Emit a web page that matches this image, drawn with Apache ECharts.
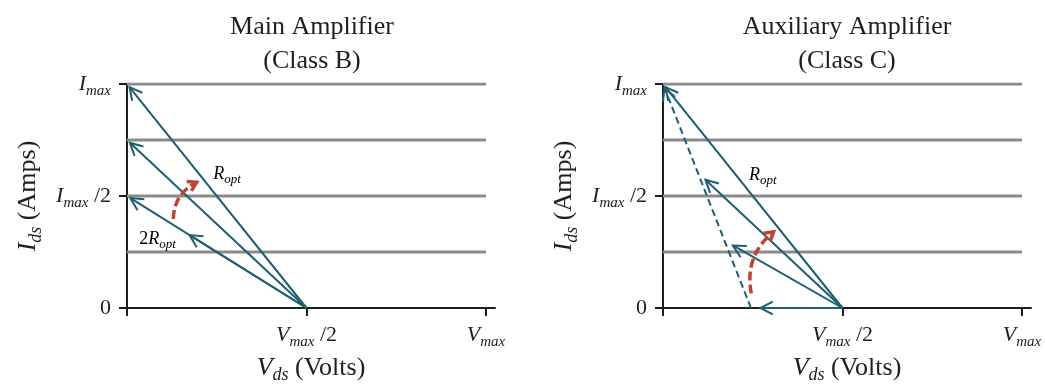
<!DOCTYPE html>
<html>
<head>
<meta charset="utf-8">
<script src="https://cdn.jsdelivr.net/npm/echarts@6/dist/echarts.min.js"></script>
<style>
  html, body { margin: 0; padding: 0; background: #fff; }
  #chart { width: 1045px; height: 385px; }
</style>
</head>
<body>
<div id="chart"></div>
<script>
// ---- data ----
const panelTitles = ['Main Amplifier\n(Class B)', 'Auxiliary Amplifier\n(Class C)'];
const levelLines = [0.25, 0.5, 0.75, 1];
const xTickValues = [0, 0.5, 1];
const xTickLabels = ['', '{i|V}{s|max}{n| /2}', '{i|V}{s|max}'];
const yTickValues = [0, 0.5, 1];
const yTickLabels = ['{n|0}', '{i|I}{s|max}{n| /2}', '{i|I}{s|max}'];
const xName = '{i|V}{s|ds}{n| (Volts)}';
const yName = '{i|I}{s|ds}{n| (Amps)}';

// load-line arrows: [fromV, fromI, toV, toI]
const mainArrows = [[0.5, 0, 0, 1], [0.5, 0, 0, 0.75], [0.5, 0, 0, 0.5], [0.5, 0, 0.165, 0.335]];
const auxArrows = [[0.5, 0, 0, 1], [0.5, 0, 0.11, 0.585], [0.5, 0, 0.185, 0.288], [0.5, 0, 0.26, 0]];
const auxDashed = [[0.245, 0, 0, 1]];

// curved load-modulation sweeps: [fromV, fromI, toV, toI]
const mainSweep = [[0.129, 0.397, 0.194, 0.561]];
const auxSweep = [[0.246, 0.065, 0.308, 0.34]];

// resistance annotations: [V, I, text]
const mainLabels = [[0.279, 0.598, '{i|R}{s|opt}'], [0.085, 0.308, '{n|2}{i|R}{s|opt}']];
const auxLabels = [[0.278, 0.594, '{i|R}{s|opt}']];

// ---- styling ----
const SERIF = '"Liberation Serif", "DejaVu Serif", serif';
const INK = '#1e1e1e';
const TEAL = '#1c5f73';
const RED = '#c0432f';
const GRID_GRAY = '#8a8a8a';

function rich(size) {
  const sub = Math.round(size * 0.7);
  return {
    i: { fontFamily: SERIF, fontStyle: 'italic', fontSize: size, lineHeight: size + 7, color: INK },
    s: { fontFamily: SERIF, fontStyle: 'italic', fontSize: sub, lineHeight: sub, verticalAlign: 'bottom', color: INK },
    n: { fontFamily: SERIF, fontSize: size, lineHeight: size + 7, color: INK }
  };
}

function headPoints(tip, ux, uy, len, half) {
  const c = Math.cos(half), s = Math.sin(half);
  const bx = -ux, by = -uy;
  const l = [tip[0] + len * (bx * c - by * s), tip[1] + len * (bx * s + by * c)];
  const r = [tip[0] + len * (bx * c + by * s), tip[1] + len * (-bx * s + by * c)];
  return [l, tip, r];
}

function arrowRenderer(dashed) {
  return function (params, api) {
    const a = api.coord([api.value(0), api.value(1)]);
    const e = api.coord([api.value(2), api.value(3)]);
    const dx = e[0] - a[0], dy = e[1] - a[1];
    const len = Math.hypot(dx, dy);
    const ux = dx / len, uy = dy / len;
    const tipGap = 4;
    const b = [e[0] - ux * tipGap, e[1] - uy * tipGap];
    return {
      type: 'group',
      children: [
        { type: 'line', shape: { x1: a[0], y1: a[1], x2: b[0], y2: b[1] },
          style: { stroke: TEAL, lineWidth: 2, lineDash: dashed ? [7, 4] : null } },
        { type: 'polyline', shape: { points: headPoints(b, ux, uy, 14, 0.48) },
          style: { stroke: TEAL, lineWidth: 2, fill: null } }
      ]
    };
  };
}

function sweepRenderer(params, api) {
  const a = api.coord([api.value(0), api.value(1)]);
  const b = api.coord([api.value(2), api.value(3)]);
  const dx = b[0] - a[0], dy = b[1] - a[1];
  const bend = 0.3;
  const cp = [(a[0] + b[0]) / 2 + bend * dy, (a[1] + b[1]) / 2 - bend * dx];
  const tx = b[0] - cp[0], ty = b[1] - cp[1];
  const tl = Math.hypot(tx, ty);
  return {
    type: 'group',
    children: [
      { type: 'bezierCurve', shape: { x1: a[0], y1: a[1], x2: b[0], y2: b[1], cpx1: cp[0], cpy1: cp[1] },
        style: { stroke: RED, lineWidth: 3.5, lineDash: [9, 4], fill: null } },
      { type: 'polyline', shape: { points: headPoints(b, tx / tl, ty / tl, 10, 0.55) },
        style: { stroke: RED, lineWidth: 3.5, fill: null } }
    ]
  };
}

function labelRenderer(params, api) {
  const p = api.coord([api.value(0), api.value(1)]);
  return {
    type: 'text', x: p[0], y: p[1],
    style: { text: api.value(2), rich: rich(18), align: 'center', verticalAlign: 'middle' }
  };
}

function axisPair(gi) {
  const common = {
    gridIndex: gi,
    type: 'value',
    splitLine: { show: false },
    axisLine: { show: true, onZero: false, lineStyle: { color: INK, width: 2 } },
    axisTick: { show: true, length: 8, lineStyle: { color: INK, width: 2 } }
  };
  const x = Object.assign({}, common, {
    min: 0, max: 1.025,
    axisTick: Object.assign({}, common.axisTick, { customValues: xTickValues }),
    axisLabel: { customValues: xTickValues, margin: 13, rich: rich(22),
      formatter: v => xTickLabels[xTickValues.indexOf(v)] || '' },
    name: xName, nameLocation: 'middle', nameGap: 42, nameTextStyle: { rich: rich(26) }
  });
  const y = Object.assign({}, common, {
    min: 0, max: 1,
    axisTick: Object.assign({}, common.axisTick, { customValues: yTickValues }),
    axisLabel: { customValues: yTickValues, margin: 16, rich: rich(22),
      formatter: v => yTickLabels[yTickValues.indexOf(v)] || '' },
    name: yName, nameLocation: 'middle', nameGap: 82, nameRotate: 90, nameTextStyle: { rich: rich(26) }
  });
  return [x, y];
}

function panelSeries(gi, arrows, dashed, sweep, labels) {
  const out = [];
  levelLines.forEach(g => {
    out.push({
      type: 'line', xAxisIndex: gi, yAxisIndex: gi, data: [[0, g], [1, g]],
      symbol: 'none', silent: true, z: 1,
      lineStyle: { color: GRID_GRAY, width: 3 }
    });
  });
  out.push({ type: 'custom', xAxisIndex: gi, yAxisIndex: gi, data: arrows, renderItem: arrowRenderer(false), z: 3, silent: true });
  if (dashed.length) {
    out.push({ type: 'custom', xAxisIndex: gi, yAxisIndex: gi, data: dashed, renderItem: arrowRenderer(true), z: 3, silent: true });
  }
  out.push({ type: 'custom', xAxisIndex: gi, yAxisIndex: gi, data: sweep, renderItem: sweepRenderer, z: 4, silent: true });
  out.push({
    type: 'custom', xAxisIndex: gi, yAxisIndex: gi, data: labels, renderItem: labelRenderer, z: 5, silent: true,
    dimensions: ['v', 'i', { name: 'text', type: 'ordinal' }]
  });
  return out;
}

const [x0, y0] = axisPair(0);
const [x1, y1] = axisPair(1);

const chart = echarts.init(document.getElementById('chart'), null, { renderer: 'canvas' });
chart.setOption({
  animation: false,
  backgroundColor: '#ffffff',
  grid: [
    { left: 127, right: 550, top: 84, bottom: 77, containLabel: false, outerBoundsMode: 'none' },
    { left: 663, right: 14, top: 84, bottom: 77, containLabel: false, outerBoundsMode: 'none' }
  ],
  xAxis: [x0, x1],
  yAxis: [y0, y1],
  graphic: panelTitles.map((t, i) => ({
    type: 'text', x: i === 0 ? 312 : 847, y: 10,
    style: { text: t, align: 'center', verticalAlign: 'top', fontFamily: SERIF,
      fontSize: 26, lineHeight: 34, fill: INK }
  })),
  series: [].concat(
    panelSeries(0, mainArrows, [], mainSweep, mainLabels),
    panelSeries(1, auxArrows, auxDashed, auxSweep, auxLabels)
  )
});
</script>
</body>
</html>
